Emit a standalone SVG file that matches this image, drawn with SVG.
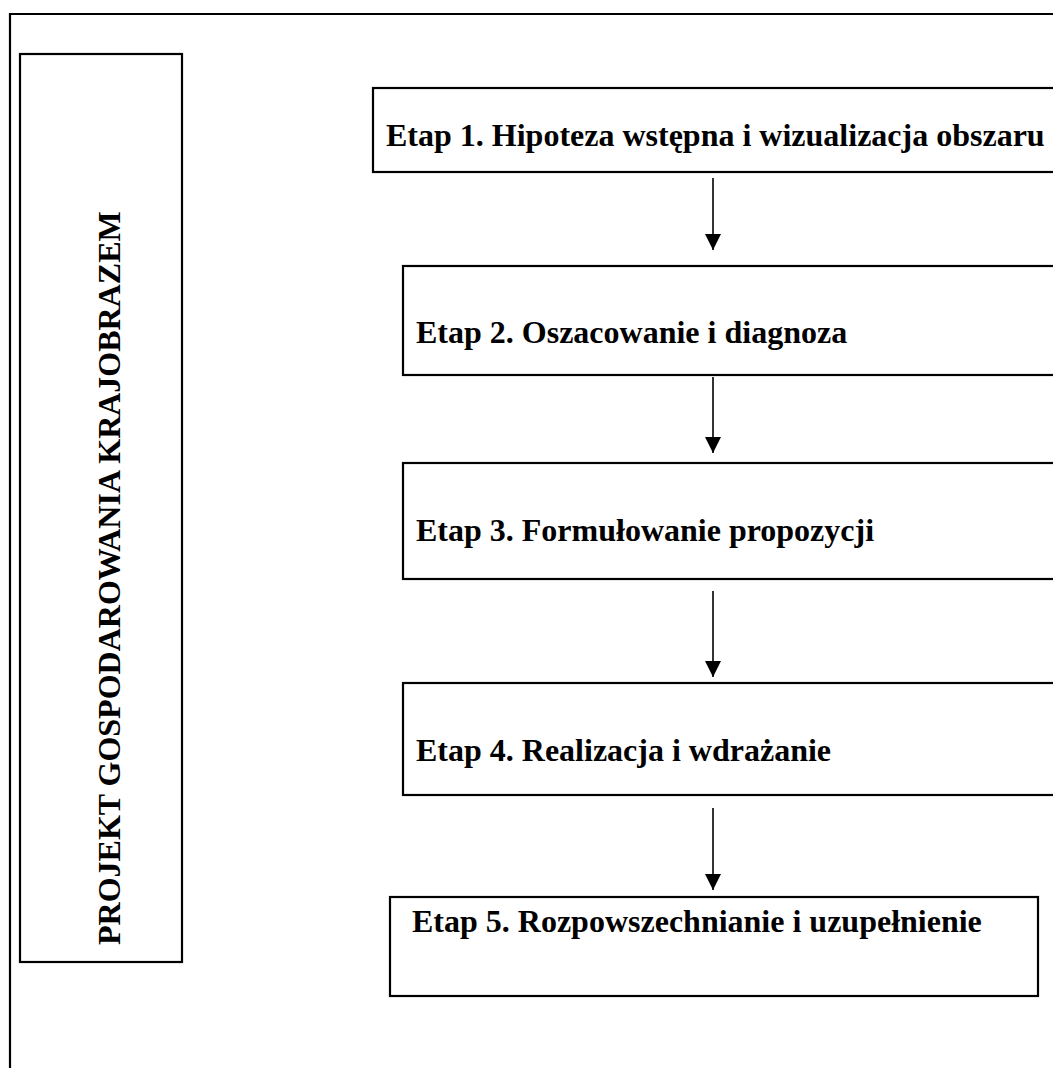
<svg xmlns="http://www.w3.org/2000/svg" width="1053" height="1068" viewBox="0 0 1053 1068">
<defs>
<style>
.box{fill:#fff;stroke:#000;stroke-width:2.2}
.t{font-family:"Liberation Serif","Times New Roman",serif;font-weight:bold;font-size:32px;fill:#000}
.c{stroke:#000;stroke-width:1.6;fill:none}
</style>
<marker id="ah" markerUnits="userSpaceOnUse" markerWidth="16" markerHeight="16" viewBox="0 0 16 16" refX="16" refY="8" orient="auto">
<path d="M0,0 L16,8 L0,16 Z" fill="#000"/>
</marker>
</defs>
<rect width="1053" height="1068" fill="#fff"/>
<g id="frame">
<path d="M10,1068 L10,14 L1053,14" fill="none" stroke="#000" stroke-width="2.2"/>
</g>
<g id="project">
<rect class="box" x="20" y="54" width="162" height="908"/>
<text class="t" transform="translate(120,945) rotate(-90)">PROJEKT GOSPODAROWANIA KRAJOBRAZEM</text>
</g>
<g id="etap1">
<rect class="box" x="373" y="88" width="700" height="84"/>
<text class="t" x="386" y="146">Etap 1. Hipoteza wstępna i wizualizacja obszaru</text>
</g>
<g id="etap2">
<rect class="box" x="403" y="266" width="670" height="109"/>
<text class="t" x="416" y="343">Etap 2. Oszacowanie i diagnoza</text>
</g>
<g id="etap3">
<rect class="box" x="403" y="463" width="670" height="116"/>
<text class="t" x="416" y="541">Etap 3. Formułowanie propozycji</text>
</g>
<g id="etap4">
<rect class="box" x="403" y="683" width="670" height="112"/>
<text class="t" x="416" y="761">Etap 4. Realizacja i wdrażanie</text>
</g>
<g id="etap5">
<rect class="box" x="390" y="897" width="648" height="99"/>
<text class="t" x="412" y="932">Etap 5. Rozpowszechnianie i uzupełnienie</text>
</g>
<g id="connectors">
<line class="c" x1="713" y1="178" x2="713" y2="250" marker-end="url(#ah)"/>
<line class="c" x1="713" y1="377" x2="713" y2="453" marker-end="url(#ah)"/>
<line class="c" x1="713" y1="591" x2="713" y2="677" marker-end="url(#ah)"/>
<line class="c" x1="713" y1="808" x2="713" y2="890" marker-end="url(#ah)"/>
</g>
</svg>
